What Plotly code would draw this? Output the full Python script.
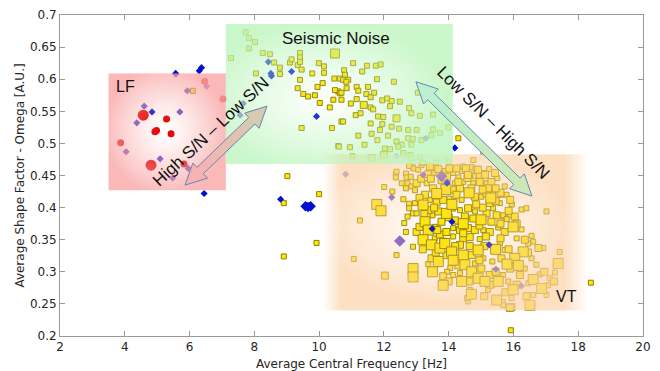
import base64, struct, zlib
import numpy as np
import plotly.graph_objects as go

# ---------------- data ----------------
x_ticks = [2, 4, 6, 8, 10, 12, 14, 16, 18, 20]
y_ticks = [0.2, 0.25, 0.3, 0.35, 0.4, 0.45, 0.5, 0.55, 0.6, 0.65, 0.7]
y_tick_labels = ["0.2", "0.25", "0.3", "0.35", "0.4", "0.45", "0.5", "0.55", "0.6", "0.65", "0.7"]

# Seismic noise (yellow squares, small)
noise_small = [
    (7.73, 0.673), (7.83, 0.664), (8.02, 0.658), (7.83, 0.648), (7.28, 0.633), (8.26, 0.641), (8.48, 0.639),
    (8.61, 0.626), (8.79, 0.618), (8.79, 0.608), (8.05, 0.609), (9.10, 0.626), (9.15, 0.631), (9.34, 0.622),
    (9.41, 0.641), (9.41, 0.634), (9.41, 0.627), (9.46, 0.615), (9.41, 0.599), (9.34, 0.586), (9.51, 0.577),
    (9.66, 0.573), (9.87, 0.575), (9.79, 0.609), (9.99, 0.625), (10.15, 0.620), (10.15, 0.610), (9.95, 0.588),
    (10.11, 0.594), (10.02, 0.563), (10.33, 0.556), (9.46, 0.524), (10.40, 0.524), (10.59, 0.496), (10.47, 0.601),
    (10.64, 0.601), (10.59, 0.581), (10.49, 0.583), (10.64, 0.578), (10.69, 0.568), (10.44, 0.568), (10.69, 0.534),
    (10.61, 0.495), (11.05, 0.625), (11.33, 0.612), (11.48, 0.621), (11.75, 0.621), (11.90, 0.623), (10.77, 0.614),
    (10.80, 0.607), (10.90, 0.599), (10.74, 0.599), (10.84, 0.596), (10.85, 0.586), (10.69, 0.579), (11.16, 0.588),
    (11.21, 0.582), (11.51, 0.588), (11.79, 0.600), (12.31, 0.596), (11.46, 0.577), (11.59, 0.572), (11.70, 0.579),
    (10.98, 0.562), (11.16, 0.569), (11.59, 0.556), (11.67, 0.553), (11.95, 0.567), (12.10, 0.570), (12.24, 0.566),
    (12.19, 0.558), (12.49, 0.565), (12.78, 0.555), (11.13, 0.544), (11.28, 0.547), (11.82, 0.542), (11.98, 0.541),
    (12.85, 0.547), (13.11, 0.543), (13.52, 0.545), (10.74, 0.534), (11.59, 0.531), (11.95, 0.530), (12.24, 0.526),
    (11.88, 0.521), (12.47, 0.523), (12.75, 0.521), (13.01, 0.521), (11.21, 0.512), (11.62, 0.515), (12.13, 0.512),
    (12.39, 0.503), (12.55, 0.498), (12.75, 0.508), (12.89, 0.507), (12.85, 0.498), (13.16, 0.505), (13.47, 0.513),
    (13.73, 0.516), (13.99, 0.525), (10.95, 0.494), (12.03, 0.492), (12.19, 0.491), (12.44, 0.495), (11.03, 0.480),
    (14.30, 0.508), (13.05, 0.579), (13.52, 0.522), (11.40, 0.498), (11.80, 0.505), (12.60, 0.485),
]
noise_medium = [(11.38, 0.560), (12.39, 0.539), (11.62, 0.477), (12.00, 0.482)]
noise_large = [(10.49, 0.640)]

# Volcano-tectonic events (yellow squares)
vt_small = [
    (12.01, 0.432), (12.26, 0.425), (12.37, 0.453), (12.37, 0.447), (12.68, 0.453), (12.70, 0.447), (12.83, 0.448),
    (12.73, 0.438), (12.68, 0.430), (12.85, 0.433), (12.60, 0.413), (12.78, 0.406), (12.78, 0.399), (12.90, 0.391),
    (12.73, 0.386), (12.63, 0.376), (12.68, 0.362), (12.88, 0.464), (12.82, 0.482), (11.26, 0.380), (12.39, 0.326),
    (11.07, 0.320), (12.90, 0.339), (12.91, 0.461), (13.06, 0.459), (13.54, 0.454), (13.88, 0.457), (14.14, 0.454),
    (14.40, 0.457), (14.71, 0.463), (14.81, 0.449), (15.12, 0.454), (15.25, 0.460), (15.50, 0.446), (15.17, 0.438),
    (14.76, 0.438), (14.45, 0.440), (14.19, 0.438), (13.32, 0.438), (12.96, 0.427), (13.42, 0.412), (14.02, 0.414),
    (14.40, 0.412), (15.01, 0.417), (15.37, 0.422), (15.79, 0.420), (15.73, 0.433), (12.96, 0.407), (13.01, 0.391),
    (13.50, 0.388), (13.57, 0.370), (14.14, 0.368), (14.29, 0.378), (14.35, 0.396), (14.81, 0.394), (15.37, 0.399),
    (15.58, 0.407), (15.70, 0.386), (15.07, 0.365), (15.53, 0.369), (14.14, 0.355), (14.96, 0.351), (13.57, 0.352),
    (12.39, 0.456), (12.78, 0.465), (13.16, 0.466), (14.76, 0.474), (15.07, 0.487), (14.45, 0.464), (12.85, 0.477),
    (13.11, 0.478), (13.37, 0.312), (13.54, 0.299), (14.35, 0.298), (14.81, 0.313), (15.07, 0.321), (15.35, 0.316),
    (15.73, 0.334), (15.58, 0.344), (15.68, 0.295), (15.22, 0.272), (15.68, 0.253), (14.60, 0.254), (14.65, 0.272),
    (14.14, 0.295), (15.84, 0.246), (16.25, 0.397), (16.40, 0.399), (17.02, 0.394), (15.68, 0.388), (15.89, 0.388),
    (15.79, 0.382), (16.25, 0.366), (16.56, 0.356), (16.61, 0.347), (16.46, 0.344), (16.92, 0.337), (17.43, 0.331),
    (16.56, 0.321), (16.71, 0.311), (17.28, 0.299), (17.12, 0.290), (16.81, 0.296), (16.46, 0.282), (17.07, 0.279),
    (15.84, 0.285), (16.61, 0.264), (15.94, 0.259), (15.68, 0.248), (17.02, 0.264), (16.19, 0.433), (15.63, 0.420),
    (14.57, 0.259), (15.49, 0.259), (13.20, 0.470), (13.60, 0.470), (14.00, 0.472), (14.30, 0.447), (13.75, 0.441),
    (15.95, 0.405), (16.10, 0.352), (16.35, 0.305), (15.40, 0.338), (14.05, 0.306), (13.95, 0.300), (12.55, 0.438),
]
vt_medium = [
    (13.37, 0.452), (13.68, 0.460), (14.02, 0.461), (14.24, 0.461), (14.53, 0.461), (14.86, 0.459), (14.96, 0.451),
    (15.43, 0.454), (15.32, 0.440), (14.96, 0.440), (14.58, 0.446), (14.35, 0.430), (14.12, 0.428), (13.52, 0.430),
    (13.01, 0.438), (13.27, 0.420), (13.63, 0.408), (13.83, 0.412), (14.24, 0.420), (14.81, 0.417), (15.17, 0.422),
    (15.60, 0.423), (15.22, 0.430), (13.37, 0.396), (13.68, 0.394), (13.78, 0.378), (13.01, 0.362), (13.73, 0.358),
    (13.93, 0.362), (14.35, 0.365), (14.50, 0.386), (14.60, 0.399), (14.76, 0.383), (15.17, 0.391), (15.27, 0.407),
    (15.48, 0.388), (15.32, 0.378), (14.60, 0.368), (14.81, 0.365), (15.27, 0.362), (15.73, 0.362), (14.45, 0.352),
    (14.65, 0.354), (13.83, 0.347), (13.42, 0.464), (14.91, 0.459), (14.60, 0.451), (15.12, 0.451), (12.03, 0.294),
    (13.47, 0.321), (13.93, 0.326), (14.35, 0.342), (14.71, 0.326), (15.01, 0.305), (15.27, 0.295), (15.63, 0.321),
    (13.83, 0.293), (16.04, 0.386), (16.77, 0.337), (15.94, 0.245), (15.89, 0.244), (14.20, 0.380), (15.05, 0.400),
    (13.15, 0.445), (13.45, 0.445), (13.95, 0.448), (14.30, 0.440), (14.70, 0.430), (15.05, 0.428), (15.45, 0.430),
    (15.90, 0.412), (13.10, 0.415), (13.55, 0.400), (14.10, 0.400), (14.85, 0.405), (15.45, 0.410), (15.85, 0.395),
    (13.25, 0.390), (14.00, 0.385), (14.95, 0.372), (15.60, 0.375), (16.10, 0.375), (13.10, 0.370), (13.65, 0.365),
    (14.45, 0.360), (15.15, 0.355), (15.60, 0.352), (16.35, 0.350), (13.20, 0.335), (14.20, 0.340), (14.65, 0.340),
    (15.10, 0.340), (15.85, 0.335), (16.45, 0.330), (13.60, 0.330), (14.30, 0.310), (14.95, 0.318), (15.45, 0.300),
    (15.90, 0.305), (16.20, 0.295), (14.00, 0.285), (14.65, 0.285), (15.30, 0.280), (16.10, 0.280), (16.40, 0.262),
    (15.10, 0.262), (15.75, 0.268), (16.95, 0.300), (17.25, 0.285),
]
vt_large = [
    (11.78, 0.405), (11.91, 0.395), (12.90, 0.305), (12.90, 0.292), (13.91, 0.428), (13.63, 0.422), (14.63, 0.423),
    (13.21, 0.404), (13.93, 0.391), (13.27, 0.378), (13.37, 0.365), (13.21, 0.350), (15.00, 0.381), (13.68, 0.316),
    (13.83, 0.279), (13.47, 0.342), (13.73, 0.337), (13.88, 0.344), (14.09, 0.331), (14.14, 0.318), (14.45, 0.326),
    (14.50, 0.311), (14.40, 0.285), (14.71, 0.300), (14.91, 0.334), (14.91, 0.290), (15.12, 0.285), (15.53, 0.285),
    (15.48, 0.256), (15.99, 0.370), (16.30, 0.331), (16.04, 0.321), (17.38, 0.313), (16.61, 0.288), (16.87, 0.274),
    (15.99, 0.272), (16.51, 0.248), (14.10, 0.405), (15.30, 0.415), (14.45, 0.375), (15.45, 0.335), (13.50, 0.300),
    (16.15, 0.310), (15.80, 0.312), (14.70, 0.265),
]
# isolated yellow events
other_small = [(8.91, 0.407), (10.00, 0.421), (9.92, 0.345), (8.91, 0.324), (9.02, 0.449), (18.39, 0.283),
               (15.92, 0.209), (6.10, 0.582)]

# purple diamonds
purple_small = [
    (4.60, 0.558), (4.37, 0.532), (5.70, 0.549), (4.04, 0.487), (5.09, 0.476), (5.96, 0.461), (5.48, 0.446),
    (5.58, 0.608), (5.93, 0.582), (6.53, 0.589), (12.24, 0.416), (13.21, 0.451), (15.46, 0.304), (16.25, 0.278),
    (10.82, 0.452), (13.96, 0.440), (7.66, 0.562), (7.56, 0.544), (13.30, 0.508), (12.39, 0.480),
]
purple_large = [(12.49, 0.348), (13.78, 0.449)]

# dark blue diamonds
blue_small = [
    (6.30, 0.613), (6.37, 0.618), (5.57, 0.609), (6.45, 0.422), (8.43, 0.627), (8.51, 0.609), (8.53, 0.605),
    (9.15, 0.612), (9.92, 0.542), (8.81, 0.413), (14.19, 0.493), (13.95, 0.438), (14.10, 0.378), (13.49, 0.367),
    (15.25, 0.342), (4.84, 0.549),
]
blue_large = [(9.58, 0.402), (9.66, 0.401), (9.74, 0.402)]

# long-period events (red circles)
lf_small = [(5.29, 0.538), (4.98, 0.520), (4.93, 0.518), (5.43, 0.515), (3.87, 0.501), (5.83, 0.468),
            (6.47, 0.597), (7.03, 0.569)]
lf_large = [(4.57, 0.544), (4.81, 0.466)]

# regions: (x0, x1, y0, y1)
region_lf = (3.50, 7.12, 0.427, 0.609)
region_noise = (7.12, 14.13, 0.468, 0.686)
region_vt = (10.12, 18.30, 0.240, 0.483)

# arrows: (x_start, y_start, x_end, y_end)
arrow_lf_noise = (5.86, 0.435, 8.39, 0.558)
arrow_noise_vt = (12.99, 0.596, 16.57, 0.418)

# ---------------- geometry ----------------
W, H = 660, 371
ML, MR, MT, MB = 60, 17, 15, 35
PW, PH = W - ML - MR, H - MT - MB
XR = (2, 20)
YR = (0.2, 0.7)


def to_px(x, y):
    return (ML + (x - XR[0]) / (XR[1] - XR[0]) * PW, MT + (YR[1] - y) / (YR[1] - YR[0]) * PH)


def to_data(px, py):
    return (XR[0] + (px - ML) / PW * (XR[1] - XR[0]), YR[1] - (py - MT) / PH * (YR[1] - YR[0]))


def png_uri(rgba):
    h, w, _ = rgba.shape
    raw = b"".join(b"\x00" + rgba[i].tobytes() for i in range(h))

    def chunk(t, data):
        return struct.pack(">I", len(data)) + t + data + struct.pack(">I", zlib.crc32(t + data) & 0xFFFFFFFF)

    png = (b"\x89PNG\r\n\x1a\n" + chunk(b"IHDR", struct.pack(">IIBBBBB", w, h, 8, 6, 0, 0, 0))
           + chunk(b"IDAT", zlib.compress(raw, 9)) + chunk(b"IEND", b""))
    return "data:image/png;base64," + base64.b64encode(png).decode()


def glow(region, center, radii, rgb, amax, power, feather):
    x0, x1, y0, y1 = region
    nx, ny = 220, 120
    xs = x0 + (np.arange(nx) + 0.5) / nx * (x1 - x0)
    ys = y1 - (np.arange(ny) + 0.5) / ny * (y1 - y0)
    X, Y = np.meshgrid(xs, ys)
    d = np.sqrt(((X - center[0]) / radii[0]) ** 2 + ((Y - center[1]) / radii[1]) ** 2)
    a = amax * np.clip(d, 0, 1) ** power
    fl, fr, ft, fb = feather
    if fl > 0:
        a *= np.clip((X - x0) / (fl * (x1 - x0)), 0, 1)
    if fr > 0:
        a *= np.clip((x1 - X) / (fr * (x1 - x0)), 0, 1)
    if ft > 0:
        a *= np.clip((y1 - Y) / (ft * (y1 - y0)), 0, 1)
    if fb > 0:
        a *= np.clip((Y - y0) / (fb * (y1 - y0)), 0, 1)
    img = np.zeros((ny, nx, 4), dtype=np.uint8)
    img[..., 0], img[..., 1], img[..., 2] = rgb
    img[..., 3] = np.clip(a * 255, 0, 255).astype(np.uint8)
    return dict(source=png_uri(img), xref="x", yref="y", x=x0, y=y1, sizex=x1 - x0, sizey=y1 - y0,
                sizing="stretch", xanchor="left", yanchor="top", layer="above")


def arrow_shapes(a, c0, c1, outline):
    ax, ay = to_px(a[0], a[1])
    bx, by = to_px(a[2], a[3])
    L = np.hypot(bx - ax, by - ay)
    ux, uy = (bx - ax) / L, (by - ay) / L
    nx_, ny_ = -uy, ux
    hl, hw, sw = 21, 10.5, 4.5

    def P(t, s):  # t along, s normal (px)
        return (ax + ux * t + nx_ * s, ay + uy * t + ny_ * s)

    def path(pts):
        dp = [to_data(*p) for p in pts]
        return "M " + " L ".join(f"{x:.5f},{y:.6f}" for x, y in dp) + " Z"

    def mix(t):
        return "rgb(%d,%d,%d)" % tuple(round(c0[i] + (c1[i] - c0[i]) * t) for i in range(3))

    shapes = []
    shapes.append(dict(type="path", path=path([P(0, 0), P(hl, hw), P(hl, -hw)]), fillcolor=mix(0),
                       line=dict(width=0.6, color=mix(0)), layer="above"))
    n = 12
    for i in range(n):
        t0 = hl + (L - 2 * hl) * i / n - 0.3
        t1 = hl + (L - 2 * hl) * (i + 1) / n + 0.3
        col = mix((i + 0.5) / n)
        shapes.append(dict(type="path", path=path([P(t0, sw), P(t1, sw), P(t1, -sw), P(t0, -sw)]),
                           fillcolor=col, line=dict(width=0.6, color=col), layer="above"))
    shapes.append(dict(type="path", path=path([P(L, 0), P(L - hl, hw), P(L - hl, -hw)]), fillcolor=mix(1),
                       line=dict(width=0.6, color=mix(1)), layer="above"))
    outline_pts = [P(0, 0), P(hl, hw), P(hl, sw), P(L - hl, sw), P(L - hl, hw), P(L, 0),
                   P(L - hl, -hw), P(L - hl, -sw), P(hl, -sw), P(hl, -hw)]
    shapes.append(dict(type="path", path=path(outline_pts), fillcolor="rgba(0,0,0,0)",
                       line=dict(width=1, color=outline), layer="above"))
    return shapes


# ---------------- figure ----------------
fig = go.Figure()
YEL = "#FFE600"
YEL_LINE = "#8F7F00"


def add(pts, symbol, size, color, line=None):
    xs = [p[0] for p in pts]
    ys = [p[1] for p in pts]
    m = dict(symbol=symbol, size=size, color=color)
    m["line"] = line if line else dict(width=0)
    fig.add_trace(go.Scatter(x=xs, y=ys, mode="markers", marker=m, showlegend=False, hoverinfo="skip"))


ylw = dict(width=1, color=YEL_LINE)
add(noise_small, "square", 5, YEL, ylw)
add(noise_medium, "square", 7, YEL, ylw)
add(noise_large, "square", 9, YEL, ylw)
add(other_small, "square", 5, YEL, ylw)
add(vt_small, "square", 5, YEL, ylw)
add(vt_medium, "square", 7, YEL, ylw)
add(vt_large, "square", 10, YEL, ylw)
add(purple_small, "diamond", 5.5, "#6A4CC8")
add(purple_large, "diamond", 9, "#6A4CC8")
add(blue_small, "diamond", 5.5, "#0010D0")
add(blue_large, "diamond", 8, "#0010D0")
add(lf_small, "circle", 7, "#E30000")
add(lf_large, "circle", 11, "#E30000")

images = [
    glow(region_vt, (13.9, 0.37), (4.0, 0.12), (252, 210, 168), 0.72, 1.1, (0.07, 0.09, 0, 0)),
    glow(region_lf, (5.25, 0.52), (1.9, 0.10), (250, 168, 168), 0.82, 1.25, (0, 0, 0, 0)),
    glow(region_noise, (10.2, 0.57), (3.8, 0.12), (190, 245, 190), 0.82, 1.1, (0, 0, 0, 0)),
]

shapes = []
shapes += arrow_shapes(arrow_lf_noise, (247, 178, 178), (214, 202, 178), "#6A87B0")
shapes += arrow_shapes(arrow_noise_vt, (188, 240, 208), (205, 232, 182), "#6A87B0")

AF = "Liberation Sans, Arial, sans-serif"
annotations = [
    dict(x=4.02, y=0.589, text="LF", font=dict(family=AF, size=16, color="#111")),
    dict(x=10.52, y=0.664, text="Seismic Noise", font=dict(family=AF, size=17, color="#111")),
    dict(x=17.65, y=0.262, text="VT", font=dict(family=AF, size=16, color="#111")),
    dict(x=6.66, y=0.519, text="High S/N – Low S/N", textangle=-43, font=dict(family=AF, size=17, color="#111")),
    dict(x=15.37, y=0.533, text="Low S/N – High S/N", textangle=45, font=dict(family=AF, size=17, color="#111")),
]
for a in annotations:
    a.update(xref="x", yref="y", showarrow=False, xanchor="center", yanchor="middle")

AX = dict(showgrid=False, zeroline=False, showline=True, linecolor="#9A9A9A", linewidth=1, mirror="allticks",
          ticks="inside", ticklen=5, tickcolor="#9A9A9A", automargin=False,
          tickfont=dict(family="DejaVu Sans", size=12, color="#262626"))

fig.update_layout(
    width=W, height=H, margin=dict(l=ML, r=MR, t=MT, b=MB), paper_bgcolor="white", plot_bgcolor="white",
    xaxis=dict(range=list(XR), tickvals=x_ticks, title=dict(text="Average Central Frequency [Hz]",
               font=dict(family="DejaVu Sans", size=12, color="#262626"), standoff=7), **AX),
    yaxis=dict(range=list(YR), tickvals=y_ticks, ticktext=y_tick_labels,
               title=dict(text="Average Shape Factor - Omega [A.U.]",
                          font=dict(family="DejaVu Sans", size=12, color="#262626"), standoff=2), **AX),
    images=images, shapes=shapes, annotations=annotations,
)
fig.write_html("out.html")
